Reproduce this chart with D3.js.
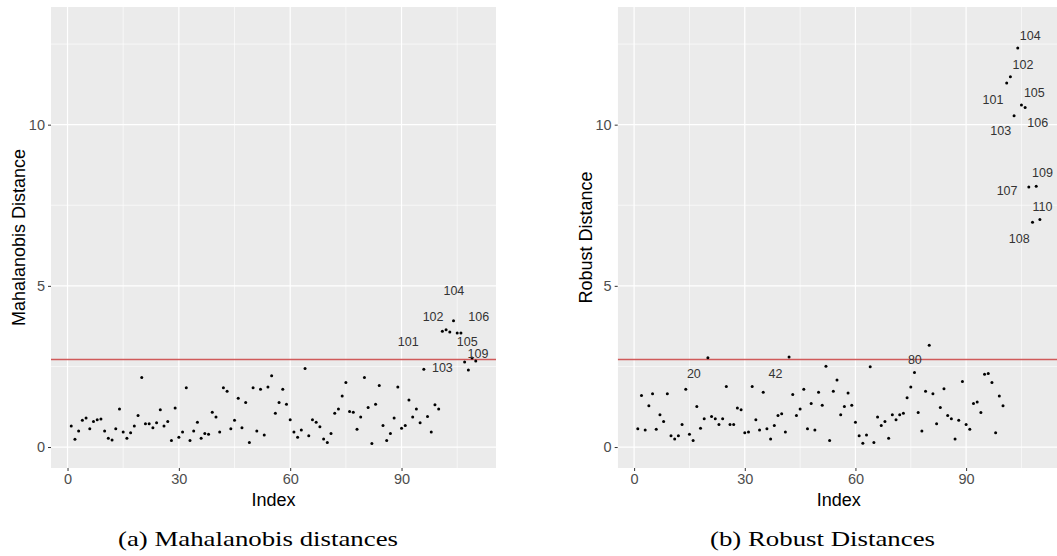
<!DOCTYPE html>
<html>
<head>
<meta charset="utf-8">
<script src="https://cdn.jsdelivr.net/npm/d3@7"></script>
<style>
  body { margin: 0; background: #fff; }
  svg { display: block; }
</style>
</head>
<body>
<svg width="1057" height="556"></svg>
<script>
// distances per observation (index 1..110)
const mahalanobis = [
  0.65, 0.24, 0.50, 0.83, 0.90, 0.57, 0.79, 0.85, 0.87, 0.50,
  0.27, 0.22, 0.57, 1.18, 0.47, 0.27, 0.44, 0.65, 0.98, 2.16,
  0.72, 0.72, 0.60, 0.75, 1.16, 0.65, 0.79, 0.20, 1.21, 0.30,
  0.47, 1.84, 0.20, 0.50, 0.77, 0.27, 0.42, 0.40, 1.08, 0.93,
  0.47, 1.84, 1.73, 0.57, 0.83, 1.51, 0.60, 1.38, 0.14, 1.84,
  0.50, 1.79, 0.37, 1.86, 2.21, 1.05, 1.38, 1.79, 1.33, 0.85,
  0.47, 0.30, 0.53, 2.44, 0.35, 0.85, 0.77, 0.63, 0.25, 0.14,
  0.42, 1.05, 1.18, 1.58, 2.00, 1.10, 1.08, 0.55, 0.93, 2.16,
  1.23, 0.11, 1.33, 1.91, 0.67, 0.20, 0.42, 0.90, 1.86, 0.58,
  0.67, 1.46, 0.93, 1.18, 0.75, 2.41, 0.95, 0.47, 1.31, 1.18,
  3.59, 3.64, 3.57, 3.92, 3.54, 3.54, 2.64, 2.39, 2.76, 2.67
]

const robust = [
  0.57, 1.60, 0.53, 1.28, 1.65, 0.55, 1.00, 0.79, 1.65, 0.35,
  0.25, 0.35, 0.70, 1.79, 0.40, 0.20, 1.26, 0.58, 0.88, 2.77,
  0.95, 0.88, 0.70, 0.88, 1.88, 0.70, 0.70, 1.21, 1.16, 0.44,
  0.47, 1.88, 0.85, 0.53, 1.70, 0.57, 0.25, 0.67, 0.98, 1.03,
  0.47, 2.79, 1.63, 0.98, 1.18, 1.79, 0.57, 1.35, 0.53, 1.70,
  1.30, 2.51, 0.20, 1.73, 2.08, 1.00, 1.26, 1.68, 1.30, 0.77,
  0.35, 0.12, 0.37, 2.49, 0.14, 0.93, 0.67, 0.79, 0.27, 1.00,
  0.85, 1.00, 1.05, 1.53, 1.86, 2.31, 1.07, 0.50, 1.73, 3.16,
  1.65, 0.72, 1.23, 1.81, 0.98, 0.88, 0.25, 0.83, 2.03, 0.70,
  0.55, 1.35, 1.40, 1.07, 2.26, 2.28, 2.00, 0.44, 1.58, 1.28,
  11.29, 11.49, 10.28, 12.38, 10.61, 10.53, 8.07, 6.97, 8.09, 7.06
]

// cutoff sqrt(qchisq(0.975, 2))
const cutoff = 2.716

// point labels: text, x (index units), y (distance units)
const labelsA = ['104', '102', '106', '101', '105', '109', '103']
const labelsA_x = [104.1, 98.5, 110.8, 91.8, 107.7, 110.6, 101.0]
const labelsA_y = [4.84, 4.05, 4.05, 3.27, 3.27, 2.91, 2.47]

const labelsB = ['104', '102', '101', '105', '103', '106', '109', '107', '110', '108', '20', '42', '80']
const labelsB_x = [107.4, 105.4, 97.3, 108.5, 99.4, 109.4, 110.7, 101.1, 110.7, 104.4, 16.2, 38.3, 76.1]
const labelsB_y = [12.77, 11.87, 10.79, 10.98, 9.80, 10.05, 8.50, 7.94, 7.45, 6.47, 2.27, 2.29, 2.72]

const xTicks = [0, 30, 60, 90]
const xMinor = [15, 45, 75, 105]
const yTicks = [0, 5, 10]
const yMinor = [2.5, 7.5, 12.5]

const svg = d3.select('svg')

const plotTop = 7, plotBottom = 468
const y = d3.scaleLinear().domain([-0.65, 13.65]).range([plotBottom, plotTop])

function panel(opts) {
  const x = d3.scaleLinear().domain([-4.45, 115.45]).range([opts.left, opts.right])
  const g = svg.append('g')

  const clipId = 'clip-' + opts.id
  svg.append('clipPath').attr('id', clipId)
    .append('rect')
    .attr('x', opts.left).attr('y', plotTop)
    .attr('width', opts.right - opts.left).attr('height', plotBottom - plotTop)

  const plot = g.append('g').attr('clip-path', `url(#${clipId})`)

  plot.append('rect')
    .attr('x', opts.left).attr('y', plotTop)
    .attr('width', opts.right - opts.left).attr('height', plotBottom - plotTop)
    .attr('fill', '#ebebeb')

  // minor grid
  plot.selectAll('.xminor').data(xMinor).enter().append('line')
    .attr('x1', d => x(d)).attr('x2', d => x(d))
    .attr('y1', plotTop).attr('y2', plotBottom)
    .attr('stroke', '#fff').attr('stroke-width', 0.6)
  plot.selectAll('.yminor').data(yMinor).enter().append('line')
    .attr('x1', opts.left).attr('x2', opts.right)
    .attr('y1', d => y(d)).attr('y2', d => y(d))
    .attr('stroke', '#fff').attr('stroke-width', 0.6)

  // major grid
  plot.selectAll('.xmajor').data(xTicks).enter().append('line')
    .attr('x1', d => x(d)).attr('x2', d => x(d))
    .attr('y1', plotTop).attr('y2', plotBottom)
    .attr('stroke', '#fff').attr('stroke-width', 1.2)
  plot.selectAll('.ymajor').data(yTicks).enter().append('line')
    .attr('x1', opts.left).attr('x2', opts.right)
    .attr('y1', d => y(d)).attr('y2', d => y(d))
    .attr('stroke', '#fff').attr('stroke-width', 1.2)

  // cutoff line
  plot.append('line')
    .attr('x1', opts.left).attr('x2', opts.right)
    .attr('y1', y(cutoff)).attr('y2', y(cutoff))
    .attr('stroke', '#d05a5a').attr('stroke-width', 1.6)

  // points
  plot.selectAll('circle')
    .data(opts.values)
    .enter()
    .append('circle')
    .attr('cx', (d, i) => x(i + 1))
    .attr('cy', d => y(d))
    .attr('r', 1.5)
    .attr('fill', '#000')

  // labels
  plot.selectAll('.lab')
    .data(opts.labels)
    .enter()
    .append('text')
    .attr('x', (d, i) => x(opts.labelsX[i]))
    .attr('y', (d, i) => y(opts.labelsY[i]))
    .attr('text-anchor', 'middle')
    .attr('dy', '0.35em')
    .attr('font-family', 'Liberation Sans, Arial, sans-serif')
    .attr('font-size', 12.5)
    .attr('fill', '#333')
    .text(d => d)

  // axes
  const xAxis = g.append('g')
    .attr('transform', `translate(0, ${plotBottom})`)
    .call(d3.axisBottom(x).tickValues(xTicks).tickSize(3).tickPadding(3))
  const yAxis = g.append('g')
    .attr('transform', `translate(${opts.left}, 0)`)
    .call(d3.axisLeft(y).tickValues(yTicks).tickSize(3).tickPadding(3))
  for (const ax of [xAxis, yAxis]) {
    ax.select('.domain').remove()
    ax.selectAll('.tick line').attr('stroke', '#333')
    ax.selectAll('.tick text')
      .attr('fill', '#4d4d4d')
      .attr('font-family', 'Liberation Sans, Arial, sans-serif')
      .attr('font-size', 14.5)
  }

  g.append('text')
    .attr('x', (opts.left + opts.right) / 2)
    .attr('y', 506)
    .attr('text-anchor', 'middle')
    .attr('font-family', 'Liberation Sans, Arial, sans-serif')
    .attr('font-size', 18)
    .attr('fill', '#000')
    .text('Index')

  g.append('text')
    .attr('transform', `translate(${opts.left - 26}, ${(plotTop + plotBottom) / 2}) rotate(-90)`)
    .attr('text-anchor', 'middle')
    .attr('font-family', 'Liberation Sans, Arial, sans-serif')
    .attr('font-size', 18)
    .attr('fill', '#000')
    .text(opts.ytitle)

  g.append('text')
    .attr('x', opts.capX)
    .attr('y', 546)
    .attr('text-anchor', 'middle')
    .attr('font-family', 'Liberation Serif, Times New Roman, serif')
    .attr('font-size', 21)
    .attr('textLength', opts.capW)
    .attr('lengthAdjust', 'spacingAndGlyphs')
    .attr('fill', '#000')
    .text(opts.caption)
}

panel({
  id: 'a', left: 51, right: 496, values: mahalanobis,
  labels: labelsA, labelsX: labelsA_x, labelsY: labelsA_y,
  ytitle: 'Mahalanobis Distance', caption: '(a) Mahalanobis distances',
  capX: 258, capW: 280
})

panel({
  id: 'b', left: 617.7, right: 1060, values: robust,
  labels: labelsB, labelsX: labelsB_x, labelsY: labelsB_y,
  ytitle: 'Robust Distance', caption: '(b) Robust Distances',
  capX: 822.5, capW: 225
})
</script>
</body>
</html>
